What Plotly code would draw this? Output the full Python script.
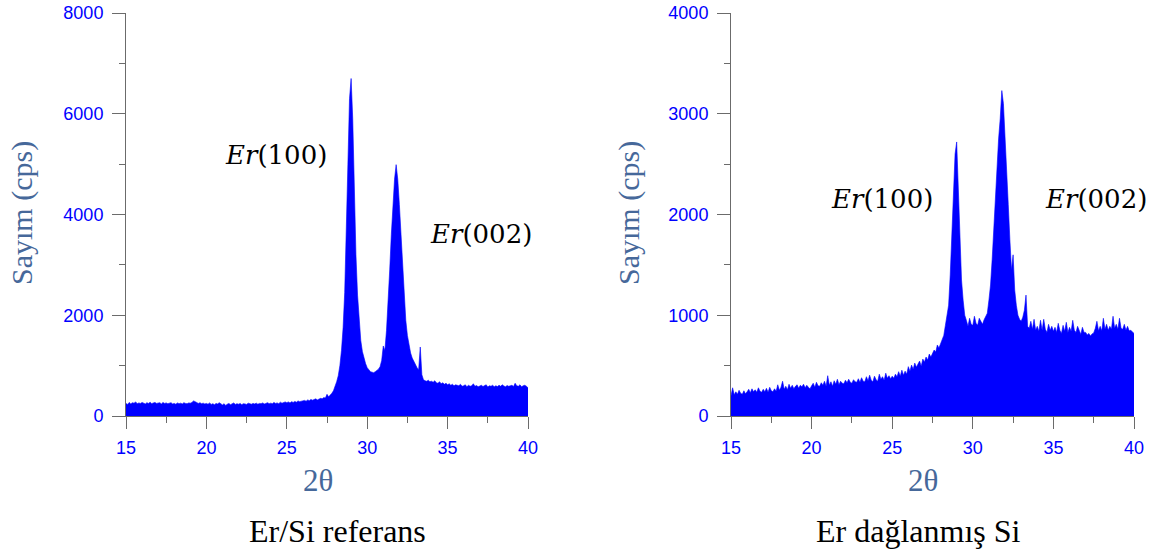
import numpy as np
import plotly.graph_objects as go

# Scan grid (2θ, degrees): 15.0 .. 40.0 in 0.1° steps
two_theta_start = 15.0
two_theta_step = 0.1

# Er/Si referans (cps)
ref_counts = [
    250, 230, 270, 240, 265, 255, 280, 245, 260, 250,
    270, 255, 240, 265, 250, 275, 245, 260, 270, 250,
    255, 265, 240, 270, 250, 260, 245, 255, 265, 240,
    250, 235, 260, 245, 255, 240, 265, 250, 245, 260,
    255, 270, 300, 285, 260, 250, 265, 245, 255, 240,
    250, 235, 260, 230, 245, 225, 250, 240, 265, 235,
    220, 245, 210, 235, 250, 225, 240, 260, 230, 245,
    235, 250, 225, 245, 240, 230, 255, 240, 235, 250,
    240, 255, 235, 250, 245, 260, 240, 250, 265, 245,
    255, 245, 270, 250, 260, 245, 275, 255, 265, 280,
    265, 280, 260, 285, 270, 290, 275, 300, 285, 295,
    290, 310, 295, 320, 305, 330, 315, 325, 340, 320,
    335, 350, 340, 365, 355, 430, 380, 410, 450, 500,
    580, 680, 800, 1000, 1300, 1750, 2450, 3500, 5000, 6300,
    6700, 5900, 4500, 3200, 2400, 1850, 1500, 1280, 1130, 1040,
    960, 910, 880, 870, 860, 880, 900, 930, 980, 1100,
    1390, 1300, 1700, 2200, 2900, 3600, 4200, 4700, 4990, 4700,
    4200, 3600, 2900, 2300, 1900, 1600, 1400, 1250, 1150, 1080,
    1000, 960, 920, 1370, 820, 720, 700, 690, 710, 680,
    690, 670, 700, 660, 650, 680, 640, 660, 630, 650,
    620, 640, 610, 630, 600, 620, 610, 600, 630, 590,
    600, 620, 580, 610, 590, 600, 640, 590, 605, 580,
    595, 610, 585, 600, 620, 575, 600, 590, 610, 580,
    600, 585, 610, 590, 620, 595, 580, 605, 590, 600,
    610, 585, 650, 600, 590, 620, 580, 600, 610, 590,
    560,
]

# Er dağlanmış Si (cps)
etched_counts = [
    200, 280, 210, 240, 215, 255, 225, 215, 250, 220,
    240, 265, 230, 270, 240, 260, 235, 280, 245, 235,
    265, 240, 275, 235, 285, 250, 240, 270, 245, 310,
    255, 285, 345, 265, 295, 260, 315, 275, 305, 270,
    295, 310, 275, 305, 290, 315, 280, 305, 285, 270,
    300, 325, 285, 335, 300, 295, 330, 305, 345, 295,
    400, 305, 340, 295, 350, 315, 365, 310, 345, 325,
    320, 355, 330, 365, 335, 325, 360, 340, 335, 370,
    335, 380, 345, 340, 390, 350, 405, 355, 340, 395,
    360, 345, 415, 365, 390, 355, 425, 375, 400, 370,
    395, 375, 415, 390, 440, 395, 455, 405, 445, 415,
    490, 445, 505, 465, 525, 485, 515, 545, 495, 565,
    535, 585, 555, 615, 585, 630, 655, 635, 705, 675,
    720, 760, 800, 900, 1000, 1100, 1400, 1850, 2300, 2600,
    2720, 2300, 1800, 1350, 1150, 1000, 950, 890, 970, 910,
    900, 990, 920, 900, 970, 930, 910, 955, 985, 1020,
    1150, 1300, 1550, 1850, 2200, 2500, 2750, 2950, 3230, 3100,
    2800, 2450, 2100, 1750, 1450, 1600, 1250, 1100, 1000, 960,
    940, 980, 1050, 1200, 890, 870, 940, 860, 960, 850,
    890, 840, 950, 850, 960, 860, 830, 910, 850, 890,
    840, 880, 830, 920, 850, 820, 900, 840, 930, 830,
    880, 840, 950, 850, 830, 890, 840, 810, 880, 830,
    830, 805, 820, 795, 815, 825, 870, 940, 845, 890,
    845, 970, 860, 910, 850, 890, 860, 990, 870, 910,
    860, 970, 870, 860, 910, 850, 890, 845, 850, 830,
    820,
]

x_ticks = [15, 20, 25, 30, 35, 40]
ref_yticks = [0, 2000, 4000, 6000, 8000]
etched_yticks = [0, 1000, 2000, 3000, 4000]

panel_captions = ["Er/Si referans", "Er dağlanmış Si"]
y_title = "Sayım (cps)"
x_title = "2θ"

two_theta = np.round(two_theta_start + two_theta_step * np.arange(len(ref_counts)), 2)

W, H = 1170, 556
BLUE = "#0000ff"
AX = "#6b6b6b"
TITLE_COL = "#46689a"

def px(x):
    return x / W

def py(y):
    return 1 - y / H

fig = go.Figure()
fig.add_trace(go.Scatter(x=two_theta, y=ref_counts, mode="lines", fill="tozeroy",
                         line=dict(color=BLUE, width=0.6), fillcolor=BLUE,
                         xaxis="x", yaxis="y", showlegend=False, hoverinfo="skip"))
fig.add_trace(go.Scatter(x=two_theta, y=etched_counts, mode="lines", fill="tozeroy",
                         line=dict(color=BLUE, width=0.6), fillcolor=BLUE,
                         xaxis="x2", yaxis="y2", showlegend=False, hoverinfo="skip"))

tickfont = dict(family="Liberation Sans, Arial, sans-serif", size=18, color=BLUE)
common_x = dict(range=[15, 40], tickvals=x_ticks, ticks="outside", ticklen=12, tickwidth=1,
                tickcolor=AX, showline=True, linecolor=AX, linewidth=1, showgrid=False,
                zeroline=False, tickfont=tickfont, automargin=False, ticklabelstandoff=3,
                minor=dict(ticks="outside", ticklen=6, tickcolor=AX, tickwidth=1, dtick=2.5,
                           tick0=15, showgrid=False))
common_y = dict(ticks="outside", ticklen=13, tickwidth=1, tickcolor=AX, showline=True,
                linecolor=AX, linewidth=1, showgrid=False, zeroline=False, tickfont=tickfont,
                automargin=False, ticklabelstandoff=5)

ydom = [py(416), py(13)]
fig.update_layout(
    width=W, height=H, autosize=False,
    margin=dict(l=0, r=0, t=0, b=0, pad=0, autoexpand=False),
    paper_bgcolor="white", plot_bgcolor="white",
    xaxis=dict(domain=[px(126), px(528)], anchor="y", **common_x),
    xaxis2=dict(domain=[px(731), px(1134)], anchor="y2", **common_x),
    yaxis=dict(domain=ydom, anchor="x", range=[0, 8000], tickvals=ref_yticks,
               minor=dict(ticks="outside", ticklen=6, tickcolor=AX, dtick=1000, showgrid=False),
               **common_y),
    yaxis2=dict(domain=ydom, anchor="x2", range=[0, 4000], tickvals=etched_yticks,
                minor=dict(ticks="outside", ticklen=6, tickcolor=AX, dtick=500, showgrid=False),
                **common_y),
)

serif = "Liberation Serif, Times New Roman, serif"
ann = []
for i, (cx_axis, cx_title, cap_x) in enumerate([(22, 318, 338), (629, 923, 918)]):
    ann.append(dict(x=px(cx_axis), y=py(213), xref="paper", yref="paper", text=y_title,
                    textangle=-90, showarrow=False, xanchor="center", yanchor="middle",
                    font=dict(family=serif, size=30, color=TITLE_COL)))
    ann.append(dict(x=px(cx_title), y=py(480), xref="paper", yref="paper", text=x_title,
                    showarrow=False, xanchor="center", yanchor="middle",
                    font=dict(family=serif, size=31, color=TITLE_COL)))
    ann.append(dict(x=px(cap_x), y=py(531), xref="paper", yref="paper", text=panel_captions[i],
                    showarrow=False, xanchor="center", yanchor="middle",
                    font=dict(family=serif, size=32, color="black")))

peak_labels = [("<i>Er</i>(100)", 276, 155), ("<i>Er</i>(002)", 481, 234),
               ("<i>Er</i>(100)", 882, 199), ("<i>Er</i>(002)", 1096, 199)]
for t, x, y in peak_labels:
    ann.append(dict(x=px(x), y=py(y), xref="paper", yref="paper", text=t, showarrow=False,
                    xanchor="center", yanchor="middle",
                    font=dict(family="DejaVu Serif, serif", size=26, color="black")))

fig.update_layout(annotations=ann)
fig.write_html("out.html")
